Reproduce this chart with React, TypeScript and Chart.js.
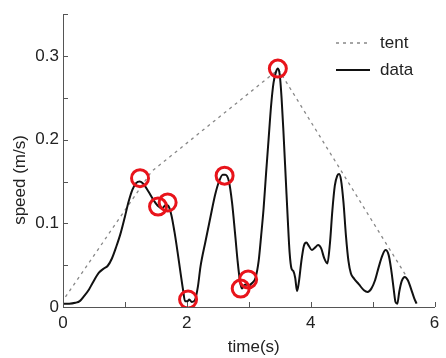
import React, { useEffect, useRef } from "react";
import { Chart, registerables } from "chart.js";

Chart.register(...registerables);

const timeValues = [
  0.0, 0.1, 0.2, 0.27, 0.34, 0.42, 0.48, 0.58, 0.66, 0.72, 0.79, 0.86, 0.93, 1.0, 1.06, 1.12, 1.18, 1.24, 1.3, 1.38,
  1.46, 1.53, 1.6, 1.66, 1.7, 1.75, 1.8, 1.85, 1.9, 1.94, 1.97, 2.01, 2.04, 2.08, 2.13, 2.18, 2.22, 2.3, 2.38, 2.46,
  2.52, 2.58, 2.62, 2.68, 2.73, 2.78, 2.82, 2.86, 2.89, 2.94, 3.0, 3.06, 3.11, 3.16, 3.2, 3.24, 3.28, 3.32, 3.36, 3.4,
  3.44, 3.47, 3.5, 3.53, 3.56, 3.6, 3.63, 3.66, 3.69, 3.72, 3.75, 3.78, 3.81, 3.85, 3.89, 3.93, 3.97, 4.02, 4.07, 4.12,
  4.17, 4.22, 4.27, 4.31, 4.35, 4.39, 4.43, 4.46, 4.49, 4.53, 4.57, 4.61, 4.65, 4.7, 4.78, 4.86, 4.92, 4.98, 5.04, 5.1,
  5.16, 5.21, 5.26, 5.3, 5.34, 5.37, 5.4, 5.43, 5.47, 5.52, 5.57, 5.62, 5.67, 5.71,
];
const speedValues = [
  0.004, 0.004, 0.005, 0.007, 0.013, 0.021, 0.029, 0.041, 0.046, 0.049, 0.058, 0.072, 0.088, 0.108, 0.126, 0.14, 0.148,
  0.15, 0.147, 0.138, 0.128, 0.121, 0.118, 0.122, 0.121, 0.11, 0.09, 0.066, 0.04, 0.02, 0.007, 0.007, 0.009, 0.006,
  0.008, 0.025, 0.048, 0.078, 0.107, 0.135, 0.15, 0.158, 0.158, 0.15, 0.125, 0.087, 0.055, 0.03, 0.022, 0.027, 0.026,
  0.029, 0.035, 0.055, 0.085, 0.118, 0.16, 0.2, 0.24, 0.268, 0.281, 0.285, 0.278, 0.25, 0.21, 0.15, 0.105, 0.065,
  0.046, 0.043, 0.035, 0.019, 0.03, 0.055, 0.073, 0.077, 0.073, 0.068, 0.071, 0.074, 0.07, 0.058, 0.052, 0.075, 0.115,
  0.145, 0.157, 0.159, 0.152, 0.125, 0.085, 0.055, 0.04, 0.034, 0.027, 0.02, 0.018, 0.022, 0.032, 0.048, 0.062, 0.068,
  0.062, 0.045, 0.022, 0.006, 0.004, 0.018, 0.031, 0.036, 0.032, 0.022, 0.011, 0.004,
];

const tentTimes = [0.04, 1.43, 3.48, 5.56];
const tentSpeeds = [0.012, 0.162, 0.284, 0.035];

const markTimes = [1.244, 1.535, 1.69, 2.02, 2.61, 2.87, 2.99, 3.47];
const markSpeeds = [0.154, 0.12, 0.125, 0.009, 0.157, 0.022, 0.033, 0.285];

const xTickLabels = ["0", "", "2", "", "4", "", "6"];
const yTickLabels = ["0", "", "0.1", "", "0.2", "", "0.3", ""];

const legendLabels = ["tent", "data"];
const xTitle = "time(s)";
const yTitle = "speed (m/s)";

const FONT = "'Liberation Sans', Arial, sans-serif";
const TEXT = "#222";
const AXIS = "#555";

const overlay = {
  id: "overlay",
  afterDraw(chart: any) {
    const { ctx, chartArea, scales } = chart;
    const xs = scales.x;
    const ys = scales.y;
    ctx.save();
    ctx.strokeStyle = AXIS;
    ctx.lineWidth = 1;
    for (let i = 0; i < xTickLabels.length; i++) {
      const px = Math.round(xs.getPixelForValue(i)) + 0.5;
      ctx.beginPath();
      ctx.moveTo(px, chartArea.bottom);
      ctx.lineTo(px, chartArea.bottom - 5);
      ctx.stroke();
    }
    for (let i = 0; i < yTickLabels.length; i++) {
      const py = Math.round(ys.getPixelForValue(i * 0.05)) + 0.5;
      ctx.beginPath();
      ctx.moveTo(chartArea.left, py);
      ctx.lineTo(chartArea.left + 5, py);
      ctx.stroke();
    }
    ctx.fillStyle = TEXT;
    ctx.font = `17px ${FONT}`;
    ctx.textAlign = "center";
    ctx.textBaseline = "middle";
    ctx.fillText(xTitle, (chartArea.left + chartArea.right) / 2 + 5, 347);
    ctx.save();
    ctx.translate(20, 180);
    ctx.rotate(-Math.PI / 2);
    ctx.fillText(yTitle, 0, 0);
    ctx.restore();
    const lx0 = 336;
    const lx1 = 370;
    const rows = [43, 70];
    ctx.textAlign = "left";
    ctx.strokeStyle = "#888";
    ctx.lineWidth = 1.3;
    ctx.setLineDash([3, 4]);
    ctx.beginPath();
    ctx.moveTo(lx0, rows[0]);
    ctx.lineTo(lx1, rows[0]);
    ctx.stroke();
    ctx.setLineDash([]);
    ctx.strokeStyle = "#111";
    ctx.lineWidth = 2;
    ctx.beginPath();
    ctx.moveTo(lx0, rows[1]);
    ctx.lineTo(lx1, rows[1]);
    ctx.stroke();
    ctx.fillStyle = TEXT;
    ctx.fillText(legendLabels[0], 380, rows[0]);
    ctx.fillText(legendLabels[1], 380, rows[1]);
    ctx.restore();
  },
};

export default function App() {
  const ref = useRef<HTMLCanvasElement | null>(null);
  useEffect(() => {
    document.body.style.margin = "0";
    const canvas = ref.current!;
    const chart = new Chart(canvas, {
      type: "line",
      data: {
        datasets: [
          {
            label: "marks",
            type: "scatter",
            data: markTimes.map((t, i) => ({ x: t, y: markSpeeds[i] })),
            pointRadius: 8.5,
            pointBorderWidth: 3,
            pointBorderColor: "#e8141b",
            pointBackgroundColor: "rgba(0,0,0,0)",
            showLine: false,
            order: 0,
          } as any,
          {
            label: legendLabels[1],
            data: timeValues.map((t, i) => ({ x: t, y: speedValues[i] })),
            borderColor: "#111",
            borderWidth: 2,
            pointRadius: 0,
            cubicInterpolationMode: "monotone",
            fill: false,
            order: 1,
          },
          {
            label: legendLabels[0],
            data: tentTimes.map((t, i) => ({ x: t, y: tentSpeeds[i] })),
            borderColor: "#888",
            borderWidth: 1.3,
            borderDash: [3, 4],
            pointRadius: 0,
            tension: 0,
            fill: false,
            order: 2,
          },
        ],
      },
      options: {
        responsive: false,
        animation: false,
        events: [],
        layout: { padding: { top: 12, right: 5, left: 0, bottom: 0 } },
        plugins: { legend: { display: false }, tooltip: { enabled: false } },
        scales: {
          x: {
            type: "linear",
            min: 0,
            max: 6,
            grid: { display: false, drawTicks: false },
            border: { display: true, color: AXIS, width: 1 },
            ticks: {
              stepSize: 1,
              autoSkip: false,
              maxRotation: 0,
              padding: 6,
              color: TEXT,
              font: { family: FONT, size: 17 },
              callback: (v: any) => xTickLabels[Math.round(Number(v))] ?? "",
            },
            afterFit: (s: any) => {
              s.height = 51;
            },
          },
          y: {
            type: "linear",
            min: 0,
            max: 0.35,
            grid: { display: false, drawTicks: false },
            border: { display: true, color: AXIS, width: 1 },
            ticks: {
              stepSize: 0.05,
              autoSkip: false,
              padding: 4,
              color: TEXT,
              font: { family: FONT, size: 17 },
              callback: (v: any) => yTickLabels[Math.round(Number(v) / 0.05)] ?? "",
            },
            afterFit: (s: any) => {
              s.width = 63;
            },
          },
        },
      },
      plugins: [overlay],
    });
    return () => chart.destroy();
  }, []);
  return <canvas ref={ref} width={446} height={358} style={{ display: "block" }} />;
}
